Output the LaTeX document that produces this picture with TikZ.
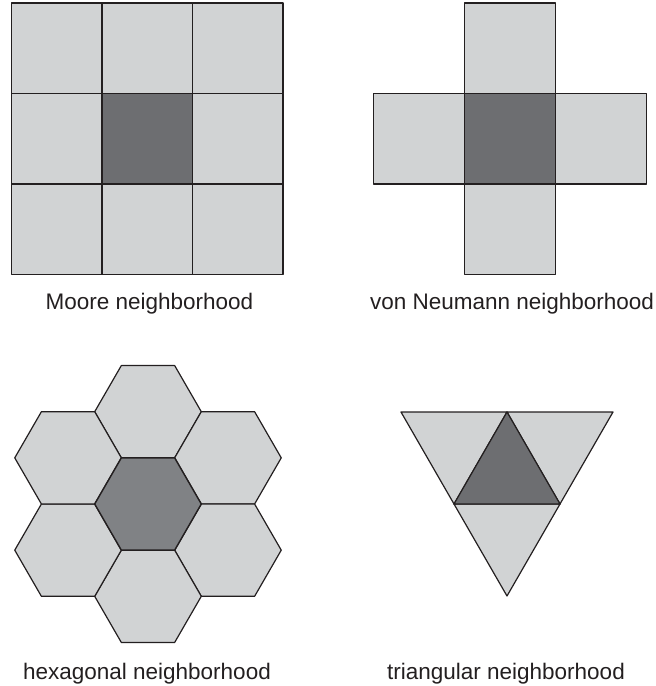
\documentclass[tikz,border=0pt]{standalone}
\usepackage{fontspec}
\setmainfont{Liberation Sans}
\definecolor{lightcell}{HTML}{D1D3D4}
\definecolor{darkcell}{HTML}{6D6E71}
\definecolor{hexdark}{HTML}{808285}
\definecolor{edge}{HTML}{231F20}
\tikzset{
  light/.style={fill=lightcell,draw=edge,line width=1.2pt,line join=round},
  dark/.style={fill=darkcell,draw=edge,line width=1.2pt,line join=round},
  hexcenter/.style={fill=hexdark,draw=edge,line width=1.4pt,line join=round},
  caption/.style={anchor=base,font=\fontsize{22.5}{27}\selectfont,text=edge,inner sep=0pt}
}
\begin{document}
\begin{tikzpicture}[x=1pt,y=-1pt]
\useasboundingbox (0,0) rectangle (656,686);
% Moore neighborhood
\foreach \i in {0,1,2}{
  \foreach \j in {0,1,2}{
    \filldraw[light] ({11.5+90.5*\i},{3+90.5*\j}) rectangle ++(90.5,90.5);
  }
}
\filldraw[dark] (102,93.5) rectangle ++(90.5,90.5);
% von Neumann neighborhood
\filldraw[light] (373.5,93.5) rectangle ++(91,90.5);
\filldraw[light] (555.5,93.5) rectangle ++(91,90.5);
\filldraw[light] (464.5,3) rectangle ++(91,90.5);
\filldraw[light] (464.5,184) rectangle ++(91,90.5);
\filldraw[dark] (464.5,93.5) rectangle ++(91,90.5);
% hexagonal neighborhood
\def\hexr{53.3}
\foreach \dx/\dy in {0/-92.3, 79.95/-46.15, 79.95/46.15, 0/92.3, -79.95/46.15, -79.95/-46.15}{
  \filldraw[light] ({148+\dx+\hexr},{504+\dy})
    \foreach \a in {60,120,...,300}{ -- ({148+\dx+\hexr*cos(\a)},{504+\dy-\hexr*sin(\a)}) } -- cycle;
}
\filldraw[hexcenter] ({148+\hexr},504)
  \foreach \a in {60,120,...,300}{ -- ({148+\hexr*cos(\a)},{504-\hexr*sin(\a)}) } -- cycle;
% triangular neighborhood
\coordinate (tl) at (401,412);
\coordinate (tr) at (613,412);
\coordinate (tb) at (507,596);
\coordinate (mt) at (507,412);
\coordinate (ml) at (454,504);
\coordinate (mr) at (560,504);
\filldraw[light] (tl) -- (mt) -- (ml) -- cycle;
\filldraw[light] (mt) -- (tr) -- (mr) -- cycle;
\filldraw[light] (ml) -- (mr) -- (tb) -- cycle;
\filldraw[dark] (mt) -- (mr) -- (ml) -- cycle;
% captions
\node[caption] (moore) at (149.5,309) {Moore neighborhood};
\node[caption] (vonneumann) at (512,309) {von Neumann neighborhood};
\node[caption] (hexagonal) at (147,679) {hexagonal neighborhood};
\node[caption] (triangular) at (506,679) {triangular neighborhood};
\end{tikzpicture}
\end{document}
